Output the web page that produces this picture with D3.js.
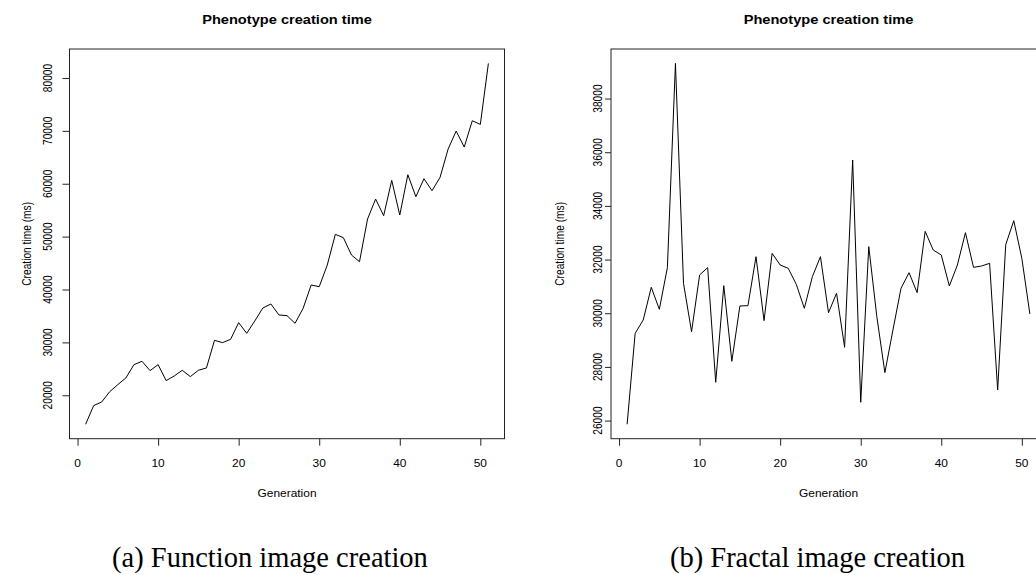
<!DOCTYPE html>
<html>
<head>
<meta charset="utf-8">
<script src="https://cdn.jsdelivr.net/npm/d3@7/dist/d3.min.js"></script>
<style>
  html, body { margin: 0; padding: 0; background: #fff; }
  svg { display: block; }
  text { font-family: "Liberation Sans", Arial, sans-serif; fill: #000; }
  .caption { font-family: "Liberation Serif", "Times New Roman", serif; }
</style>
</head>
<body>
<svg id="fig" width="1036" height="575"></svg>
<script>
// Generations 1..51
const generations = d3.range(1, 52);

// Function image creation time per generation (ms)
const functionTimes = [
  14519, 18047, 18740, 20693, 22016, 23276, 25796, 26426, 24662, 25796,
  22772, 23654, 24725, 23528, 24725, 25166, 30395, 29954, 30584, 33734,
  31718, 34049, 36506, 37262, 35183, 35057, 33608, 36443, 40853, 40538,
  44633, 50429, 49799, 46523, 45263, 53327, 57107, 53957, 60635, 54083,
  61706, 57548, 60950, 58682, 61202, 66557, 69959, 66935, 71912, 71219,
  82748
];

// Fractal image creation time per generation (ms)
const fractalTimes = [
  25863, 29253, 29749, 30966, 30147, 31699, 39309, 31115, 29315, 31425,
  31699, 27428, 31028, 28210, 30271, 30283, 32108, 29725, 32232, 31798,
  31674, 31078, 30184, 31363, 32108, 30022, 30743, 28731, 35708, 26683,
  32481, 29873, 27788, 29377, 30929, 31512, 30767, 33052, 32356, 32170,
  31016, 31798, 33002, 31711, 31761, 31860, 27142, 32555, 33449, 32046,
  29973
];

const xTickValues = [0, 10, 20, 30, 40, 50];
const functionYTicks = [20000, 30000, 40000, 50000, 60000, 70000, 80000];
const fractalYTicks = [26000, 28000, 30000, 32000, 34000, 36000, 38000];

const plotTitle = "Phenotype creation time";
const xTitle = "Generation";
const yTitle = "Creation time (ms)";
const captions = ["(a) Function image creation", "(b) Fractal image creation"];

// plot text is slightly wider than tall
const SX = 1.17;

const svg = d3.select("#fig");

// base-graphics style padding of 4% on each side of the data range
function padded(ext) {
  const p = (ext[1] - ext[0]) * 0.04;
  return [ext[0] - p, ext[1] + p];
}

function panel(opts) {
  const g = svg.append("g");
  const top = 49, bottom = 438.7;
  const left = opts.left, right = opts.left + 435;

  const x = d3.scaleLinear()
    .domain(padded(d3.extent(generations)))
    .range([left, right]);
  const y = d3.scaleLinear()
    .domain(padded(d3.extent(opts.values)))
    .range([bottom, top]);

  // data line
  const line = d3.line()
    .x((d, i) => x(generations[i]))
    .y(d => y(d));
  g.append("path")
    .datum(opts.values)
    .attr("d", line)
    .attr("fill", "none")
    .attr("stroke", "#000")
    .attr("stroke-width", 1)
    .attr("stroke-linejoin", "round");

  // bottom axis
  const xa = g.append("g")
    .attr("transform", `translate(0,${bottom})`)
    .call(d3.axisBottom(x).tickValues(xTickValues).tickSize(7).tickSizeOuter(0).tickFormat(""));
  xa.select(".domain").remove();
  xa.selectAll("line").attr("stroke", "#222").attr("stroke-width", 1);

  g.selectAll(".xlab")
    .data(xTickValues)
    .join("text")
    .attr("class", "xlab")
    .attr("transform", d => `translate(${x(d)},466.7) scale(${SX},1)`)
    .attr("text-anchor", "middle")
    .attr("font-size", 10.2)
    .text(d => d);

  // left axis
  const ya = g.append("g")
    .attr("transform", `translate(${left},0)`)
    .call(d3.axisLeft(y).tickValues(opts.yTicks).tickSize(opts.tickLen).tickSizeOuter(0).tickFormat(""));
  ya.select(".domain").remove();
  ya.selectAll("line").attr("stroke", "#222").attr("stroke-width", 1);

  g.selectAll(".ylab")
    .data(opts.yTicks)
    .join("text")
    .attr("class", "ylab")
    .attr("transform", d => `translate(${opts.yLabX},${y(d)}) scale(${SX},1) rotate(-90)`)
    .attr("text-anchor", "middle")
    .attr("font-size", 10.2)
    .text(d => d);

  // plot frame
  g.append("rect")
    .attr("x", left).attr("y", top)
    .attr("width", right - left).attr("height", bottom - top)
    .attr("fill", "none")
    .attr("stroke", "#222")
    .attr("stroke-width", 1);

  const cx = (left + right) / 2;

  g.append("text")
    .attr("transform", `translate(${cx},24) scale(${SX},1)`)
    .attr("text-anchor", "middle")
    .attr("font-size", 12.5)
    .attr("font-weight", "bold")
    .text(plotTitle);

  g.append("text")
    .attr("transform", `translate(${cx},496.5) scale(${SX},1)`)
    .attr("text-anchor", "middle")
    .attr("font-size", 10.2)
    .text(xTitle);

  g.append("text")
    .attr("transform", `translate(${opts.yTitleX},${(top + bottom) / 2}) scale(${SX},1) rotate(-90)`)
    .attr("text-anchor", "middle")
    .attr("font-size", 10.2)
    .text(yTitle);

  // sub-figure caption
  g.append("text")
    .attr("class", "caption")
    .attr("x", opts.capX)
    .attr("y", 567)
    .attr("text-anchor", "middle")
    .attr("font-size", 28.5)
    .text(opts.caption);
}

panel({
  left: 69.5, values: functionTimes, yTicks: functionYTicks,
  tickLen: 7, yLabX: 52, yTitleX: 30.5, capX: 270, caption: captions[0]
});

panel({
  left: 611, values: fractalTimes, yTicks: fractalYTicks,
  tickLen: 6, yLabX: 601.5, yTitleX: 563.5, capX: 817.5, caption: captions[1]
});
</script>
</body>
</html>
